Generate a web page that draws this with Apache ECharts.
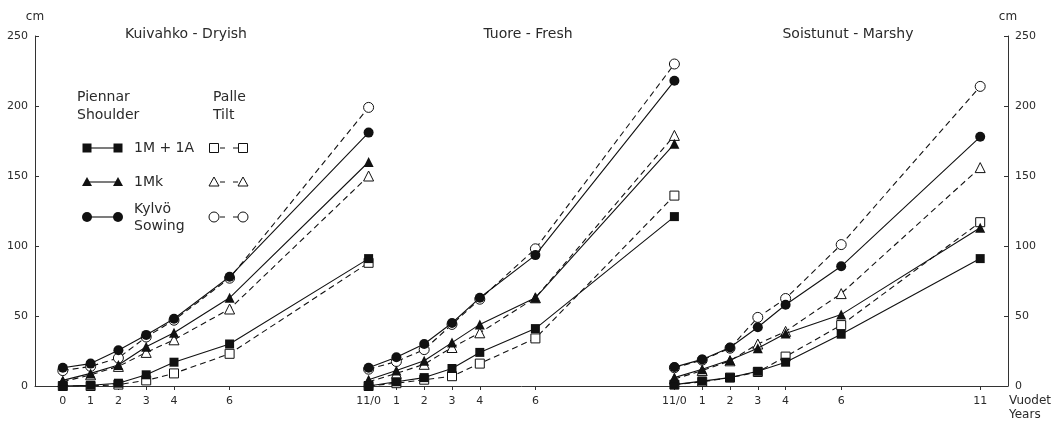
<!DOCTYPE html>
<html>
<head>
<meta charset="utf-8">
<script src="https://cdn.jsdelivr.net/npm/echarts@6/dist/echarts.min.js"></script>
<style>
  html, body { margin: 0; padding: 0; background: #fff; }
  #chart { width: 1057px; height: 421px; }
</style>
</head>
<body>
<div id="chart"></div>
<script>
// Years since planting, measured in each site type
const years = [0, 1, 2, 3, 4, 6, 11];
// Site panels laid side by side on one continuous year axis
const panelTitles = ['Kuivahko - Dryish', 'Tuore - Fresh', 'Soistunut - Marshy'];
const panelOffsets = [0, 11, 22];

// Height (cm): shoulder (piennar) = solid, tilt (palle) = dashed
const dryish_1M1A_shoulder   = [0, 0.5, 2, 8, 17, 30, 91];
const dryish_1M1A_tilt       = [0, 0, 1, 4, 9, 23, 88];
const dryish_1Mk_shoulder    = [4, 9, 15, 28, 38, 63, 160];
const dryish_1Mk_tilt        = [3, 8, 14, 24, 33, 55, 150];
const dryish_sowing_shoulder = [13, 16, 25.5, 36.5, 48, 78, 181];
const dryish_sowing_tilt     = [11, 14, 20, 35, 47, 77, 199];

const fresh_1M1A_shoulder    = [0, 3, 6, 12.5, 24, 41, 121];
const fresh_1M1A_tilt        = [0, 2, 4.5, 7, 16, 34, 136];
const fresh_1Mk_shoulder     = [4.5, 11, 18, 31, 44, 63, 173];
const fresh_1Mk_tilt         = [3, 9, 15.5, 27.5, 38, 63, 179];
const fresh_sowing_shoulder  = [13, 20.5, 30, 45, 63, 93.5, 218];
const fresh_sowing_tilt      = [12, 17.5, 26, 44, 62, 98, 230];

const marshy_1M1A_shoulder   = [1, 3.5, 6, 10.5, 17, 37, 91];
const marshy_1M1A_tilt       = [1, 3, 6, 10, 21, 43.5, 117];
const marshy_1Mk_shoulder    = [6, 12, 18.5, 27, 37.5, 51, 113];
const marshy_1Mk_tilt        = [5, 11, 18, 30, 39, 66, 156];
const marshy_sowing_shoulder = [13.5, 19, 27.5, 42, 58, 85.5, 178];
const marshy_sowing_tilt     = [13, 18.5, 27, 49, 62.5, 101, 214];

// Tick positions on the shared axis and their printed labels
const xTickValues = [0, 1, 2, 3, 4, 6, 11, 12, 13, 14, 15, 17, 22, 23, 24, 25, 26, 28, 33];
const xTickLabels = ['0', '1', '2', '3', '4', '6', '11/0', '1', '2', '3', '4', '6', '11/0', '1', '2', '3', '4', '6', '11'];

const panelData = [
  { '1M1A': [dryish_1M1A_shoulder, dryish_1M1A_tilt], '1Mk': [dryish_1Mk_shoulder, dryish_1Mk_tilt], sowing: [dryish_sowing_shoulder, dryish_sowing_tilt] },
  { '1M1A': [fresh_1M1A_shoulder, fresh_1M1A_tilt], '1Mk': [fresh_1Mk_shoulder, fresh_1Mk_tilt], sowing: [fresh_sowing_shoulder, fresh_sowing_tilt] },
  { '1M1A': [marshy_1M1A_shoulder, marshy_1M1A_tilt], '1Mk': [marshy_1Mk_shoulder, marshy_1Mk_tilt], sowing: [marshy_sowing_shoulder, marshy_sowing_tilt] }
];

const INK = '#111';
const TEXT = '#2a2a2a';
const FONT = '"DejaVu Sans", sans-serif';

const markerOf = { '1M1A': { symbol: 'rect', size: 9 }, '1Mk': { symbol: 'triangle', size: 10 }, sowing: { symbol: 'circle', size: 10 } };

const series = [];
// tilt (dashed, open markers) first so the solid series sit on top
[1, 0].forEach(function (styleIdx) {
  panelData.forEach(function (panel, p) {
    Object.keys(markerOf).forEach(function (key) {
      const vals = panel[key][styleIdx];
      const open = styleIdx === 1;
      series.push({
        type: 'line',
        name: key + (open ? ' tilt' : ' shoulder') + ' ' + p,
        data: years.map(function (y, i) { return [panelOffsets[p] + y, vals[i]]; }),
        symbol: markerOf[key].symbol,
        symbolSize: markerOf[key].size,
        showSymbol: true,
        lineStyle: { color: INK, width: 1.1, type: open ? [6, 4] : 'solid' },
        itemStyle: open
          ? { color: '#fff', borderColor: INK, borderWidth: 1 }
          : { color: INK, borderColor: INK, borderWidth: 0 },
        emphasis: { disabled: true },
        silent: true,
        animation: false,
        z: open ? 2 : 3
      });
    });
  });
});

// Legend drawn in the first panel
const legendRows = [
  { y: 148, shape: 'rect', label: '1M + 1A' },
  { y: 182, shape: 'triangle', label: '1Mk' },
  { y: 217, shape: 'circle', label: 'Kylvö\nSowing' }
];
function legendMarker(shape, cx, cy, filled) {
  const style = filled ? { fill: INK, stroke: INK, lineWidth: 0 } : { fill: '#fff', stroke: INK, lineWidth: 1 };
  if (shape === 'rect') return { type: 'rect', shape: { x: cx - 4.5, y: cy - 4.5, width: 9, height: 9 }, style: style, z: 10 };
  if (shape === 'circle') return { type: 'circle', shape: { cx: cx, cy: cy, r: 5 }, style: style, z: 10 };
  return { type: 'polygon', shape: { points: [[cx, cy - 5], [cx + 5, cy + 4], [cx - 5, cy + 4]] }, style: style, z: 10 };
}
const graphics = [];
panelTitles.forEach(function (t, i) {
  const cx = [186, 528, 848][i];
  graphics.push({ type: 'text', x: cx, y: 34, style: { text: t, font: '14px ' + FONT, fill: TEXT, align: 'center', verticalAlign: 'middle' } });
});
graphics.push({ type: 'text', x: 77, y: 106, style: { text: 'Piennar\nShoulder', font: '14px ' + FONT, fill: TEXT, lineHeight: 18, align: 'left', verticalAlign: 'middle' } });
graphics.push({ type: 'text', x: 213, y: 106, style: { text: 'Palle\nTilt', font: '14px ' + FONT, fill: TEXT, lineHeight: 18, align: 'left', verticalAlign: 'middle' } });
legendRows.forEach(function (r) {
  graphics.push({ type: 'line', shape: { x1: 87, y1: r.y, x2: 118, y2: r.y }, style: { stroke: INK, lineWidth: 1.1 }, z: 9 });
  graphics.push(legendMarker(r.shape, 87, r.y, true));
  graphics.push(legendMarker(r.shape, 118, r.y, true));
  graphics.push({ type: 'text', x: 134, y: r.y + (r.shape === 'circle' ? 1 : 0), style: { text: r.label, font: '14px ' + FONT, fill: TEXT, lineHeight: 17, align: 'left', verticalAlign: 'middle' } });
  graphics.push({ type: 'line', shape: { x1: 220, y1: r.y, x2: 238, y2: r.y }, style: { stroke: INK, lineWidth: 1, lineDash: [5, 8] }, z: 9 });
  graphics.push(legendMarker(r.shape, 214, r.y, false));
  graphics.push(legendMarker(r.shape, 243, r.y, false));
});
graphics.push({ type: 'text', x: 1009, y: 408, style: { text: 'Vuodet\nYears', font: '12px ' + FONT, fill: TEXT, lineHeight: 14, align: 'left', verticalAlign: 'middle' } });

const yAxisCommon = {
  type: 'value', min: 0, max: 250, interval: 50,
  name: 'cm', nameLocation: 'end', nameGap: 13,
  nameTextStyle: { fontFamily: FONT, fontSize: 12, color: TEXT },
  axisLine: { show: true, onZero: false, lineStyle: { color: '#333', width: 1 } },
  axisTick: { show: true, inside: true, length: 4, lineStyle: { color: '#333' } },
  splitLine: { show: false },
  axisLabel: { fontFamily: FONT, fontSize: 11, color: TEXT, margin: 7 }
};

const chart = echarts.init(document.getElementById('chart'), null, { renderer: 'canvas' });
chart.setOption({
  backgroundColor: '#fff',
  animation: false,
  grid: { left: 35, right: 49, top: 36, bottom: 35, containLabel: false },
  xAxis: {
    type: 'value', min: -1, max: 34,
    axisLine: { show: true, onZero: false, lineStyle: { color: '#333', width: 1 } },
    axisTick: { show: true, inside: false, length: 4, customValues: xTickValues, lineStyle: { color: '#333' } },
    axisLabel: {
      customValues: xTickValues,
      fontFamily: FONT, fontSize: 11, color: TEXT, margin: 10,
      formatter: function (v) { const i = xTickValues.indexOf(v); return i >= 0 ? xTickLabels[i] : ''; }
    },
    splitLine: { show: false }
  },
  yAxis: [
    Object.assign({}, yAxisCommon, { position: 'left' }),
    Object.assign({}, yAxisCommon, { position: 'right' })
  ],
  graphic: graphics,
  series: series
});
</script>
</body>
</html>
